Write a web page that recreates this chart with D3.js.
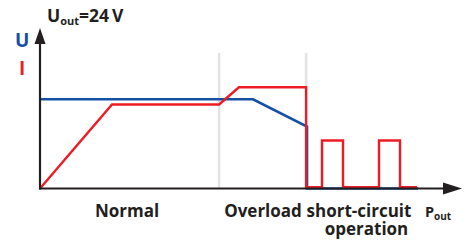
<!DOCTYPE html>
<html>
<head>
<meta charset="utf-8">
<script src="https://cdn.jsdelivr.net/npm/d3@7"></script>
<style>
  html, body { margin: 0; padding: 0; background: #fff; }
  svg text { font-family: "Open Sans", "Noto Sans", sans-serif; font-weight: bold; fill: #231f20; }
</style>
</head>
<body>
<div id="chart"></div>
<script>
// load points along the power axis (arbitrary units)
var phaseMarks = [59.7, 88.7];
var voltagePts = [[0, 22.3], [71, 22.3], [89, 15.5], [89, 0], [126, 0]];
var currentPts = [[0, 0], [24, 21], [59.7, 21], [66.3, 25.3], [88.7, 25.3], [88.7, 0.3],
  [94, 0.3], [94, 12], [101, 12], [101, 0.3], [113, 0.3], [113, 12], [120, 12], [120, 0.3], [125.7, 0.3]];
var phaseLabels = ['Normal', 'Overload', 'short-circuit'];

var width = 473, height = 240;
var blue = '#1450a3', red = '#ed1c24', axisCol = '#231f20';

var x = d3.scaleLinear().domain([0, 140]).range([40, 460]);
var y = d3.scaleLinear().domain([0, 40]).range([188.5, 28.5]);

var svg = d3.select('#chart').append('svg')
  .attr('width', width)
  .attr('height', height);

// grey phase separators
svg.selectAll('line.sep')
  .data(phaseMarks).enter()
  .append('line')
  .attr('class', 'sep')
  .attr('x1', function(d){ return x(d); })
  .attr('x2', function(d){ return x(d); })
  .attr('y1', 53)
  .attr('y2', y(0))
  .attr('stroke', '#e3e3e3')
  .attr('stroke-width', 2.5);

var line = d3.line()
  .x(function(d){ return x(d[0]); })
  .y(function(d){ return y(d[1]); });

svg.append('path')
  .datum(voltagePts)
  .attr('d', line)
  .attr('fill', 'none')
  .attr('stroke', blue)
  .attr('stroke-width', 2.6);

svg.append('path')
  .datum(currentPts)
  .attr('d', line)
  .attr('fill', 'none')
  .attr('stroke', red)
  .attr('stroke-width', 2.4);

// axes with arrows
svg.append('line')
  .attr('x1', x(0)).attr('x2', x(0))
  .attr('y1', y(0) + 1).attr('y2', 40)
  .attr('stroke', axisCol).attr('stroke-width', 2.2);
svg.append('path')
  .attr('d', 'M' + x(0) + ',28 L' + (x(0) - 5.5) + ',44 L' + (x(0) + 5.5) + ',44 Z')
  .attr('fill', axisCol);

svg.append('line')
  .attr('x1', x(0) - 1).attr('x2', 450)
  .attr('y1', y(0)).attr('y2', y(0))
  .attr('stroke', axisCol).attr('stroke-width', 2.2);
svg.append('path')
  .attr('d', 'M462,' + y(0) + ' L443,' + (y(0) - 6) + ' L443,' + (y(0) + 6) + ' Z')
  .attr('fill', axisCol);

// axis labels
svg.append('text').attr('x', 15).attr('y', 47)
  .attr('font-size', 19).style('fill', blue).text('U');
svg.append('text').attr('x', 19).attr('y', 75)
  .attr('font-size', 19).style('fill', red).text('I');

var title = svg.append('text').attr('x', 47).attr('y', 22).attr('font-size', 17.5);
title.append('tspan').text('U');
title.append('tspan').attr('font-size', 11).attr('dy', 3).text('out');
title.append('tspan').attr('dy', -3).text('=24\u2009V');

var phaseX = [127, 263, 359];
svg.selectAll('text.phase')
  .data(phaseLabels).enter()
  .append('text')
  .attr('class', 'phase')
  .attr('x', function(d, i){ return phaseX[i]; })
  .attr('y', 217)
  .attr('font-size', 17)
  .attr('text-anchor', 'middle')
  .text(function(d){ return d; });
svg.append('text').attr('x', 366.5).attr('y', 235)
  .attr('font-size', 17).attr('text-anchor', 'middle').text('operation');

var pout = svg.append('text').attr('x', 425).attr('y', 217).attr('font-size', 14.5);
pout.append('tspan').text('P');
pout.append('tspan').attr('font-size', 10).attr('dy', 3).text('out');
</script>
</body>
</html>
